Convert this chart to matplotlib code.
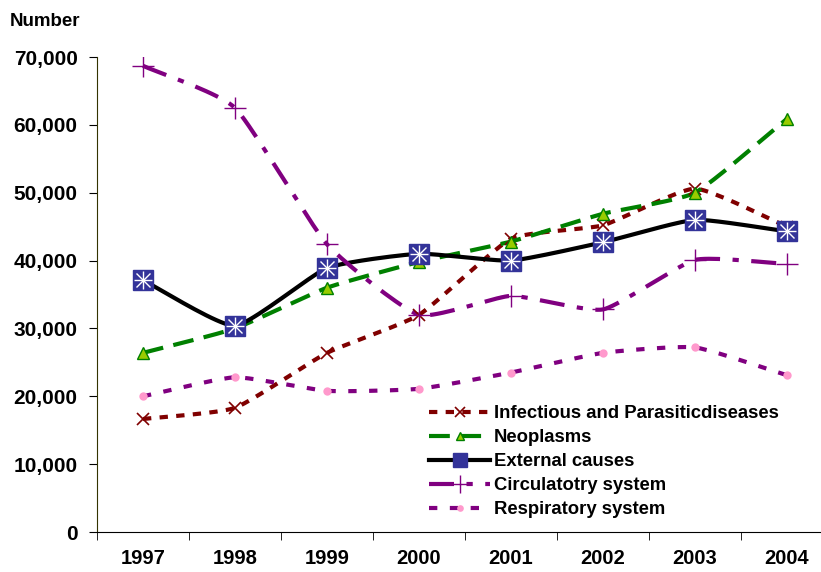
import matplotlib
matplotlib.use('Agg')

import matplotlib.pyplot as plt
import numpy as np
from matplotlib.ticker import FuncFormatter, FixedLocator

years = ['1997', '1998', '1999', '2000', '2001', '2002', '2003', '2004']
infectious = [16650, 18300, 26400, 32000, 43200, 45200, 50600, 45000]
neoplasms = [26400, 30000, 36000, 39800, 42800, 46900, 50000, 60900]
external = [37100, 30400, 38900, 41000, 40000, 42700, 46000, 44300]
circulatory = [68700, 62500, 42400, 32000, 34800, 32800, 40100, 39500]
respiratory = [20000, 22800, 20800, 21100, 23500, 26400, 27200, 23100]


def smooth(x, y, n=20, s=0.5):
    # cardinal spline through the points (gentle, like Excel's smoothed lines)
    pts = [np.asarray(x, float), np.asarray(y, float)]
    out = [[], []]
    t = np.linspace(0, 1, n, endpoint=False)
    h00 = 2 * t ** 3 - 3 * t ** 2 + 1
    h10 = t ** 3 - 2 * t ** 2 + t
    h01 = -2 * t ** 3 + 3 * t ** 2
    h11 = t ** 3 - t ** 2
    for k, p in enumerate(pts):
        m = np.zeros_like(p)
        m[1:-1] = s * (p[2:] - p[:-2]) / 2
        m[0] = s * (p[1] - p[0])
        m[-1] = s * (p[-1] - p[-2])
        for i in range(len(p) - 1):
            out[k].extend(h00 * p[i] + h10 * m[i] + h01 * p[i + 1] + h11 * m[i + 1])
        out[k].append(p[-1])
    return out


plt.rcParams['font.family'] = ['Liberation Sans', 'DejaVu Sans']
plt.rcParams['font.weight'] = 'bold'

fig = plt.figure(figsize=(8.21, 5.72), dpi=100)
ax = fig.add_axes([97 / 821, 1 - 532 / 572, 736 / 821, 475 / 572])

x = np.arange(len(years))

styles = [
    (infectious, 'Infectious and Parasiticdiseases', '#800000', (0, (2, 2)),
     dict(marker='x', ms=9, mec='#800000', mfc='none', mew=1.2)),
    (neoplasms, 'Neoplasms', '#008000', (0, (5, 2.5)),
     dict(marker='^', ms=8, mec='#008000', mfc='#99CC00', mew=1)),
    (external, 'External causes', 'black', '-',
     dict(marker='s', ms=14, mec='#333399', mfc='#333399', mew=1)),
    (circulatory, 'Circulatotry system', '#800080', (0, (6, 3, 1.5, 3)),
     dict(marker='+', ms=16, mec='#800080', mew=1)),
    (respiratory, 'Respiratory system', '#800080', (0, (2, 3)),
     dict(marker='o', ms=6, mec='#FF99CC', mfc='#FF99CC', mew=0)),
]

handles = []
for vals, label, color, ls, mk in styles:
    sx, sy = smooth(x, vals)
    ax.plot(sx, sy, color=color, lw=3, ls=ls, zorder=2)
    ax.plot(x, vals, ls='none', zorder=3, **mk)
    if label == 'External causes':
        ax.plot(x, vals, ls='none', marker='x', ms=10, mec='white', mew=1, zorder=4)
        ax.plot(x, vals, ls='none', marker='+', ms=13, mec='white', mew=1, zorder=4)
        mk = dict(mk, ms=10)
    else:
        mk = dict(mk, ms=mk['ms'] * 0.8)
    h, = ax.plot([], [], color=color, lw=3, ls=ls, label=label, **mk)
    handles.append(h)

ax.set_xlim(-0.5, 7.5)
ax.set_ylim(0, 70000)
ax.set_yticks(np.arange(0, 70001, 10000))
ax.yaxis.set_major_formatter(FuncFormatter(lambda v, p: '{:,.0f}'.format(v)))
ax.set_xticks(x)
ax.set_xticklabels(years)
ax.xaxis.set_minor_locator(FixedLocator(np.arange(-0.5, 7.6, 1)))
ax.tick_params(axis='x', which='major', length=0, pad=12, labelsize=14.5)
ax.tick_params(axis='x', which='minor', length=6, direction='out')
ax.tick_params(axis='y', length=6, direction='out', labelsize=15, pad=8)
for lab in ax.get_xticklabels() + ax.get_yticklabels():
    lab.set_fontweight('bold')
ax.spines['top'].set_visible(False)
ax.spines['right'].set_visible(False)
ax.spines['left'].set_color('#333300')
ax.spines['bottom'].set_color('black')

fig.text(10 / 821, 1 - 22 / 572, 'Number', fontsize=13.5, fontweight='bold', va='center')

ax.legend(handles=handles, loc='upper left', bbox_to_anchor=(420 / 821, 1 - 396 / 572),
          bbox_transform=fig.transFigure, frameon=False,
          handlelength=3.3, handletextpad=0.2, labelspacing=0.38, borderpad=0,
          prop={'weight': 'bold', 'size': 13.3})

fig.savefig('out.png', dpi=100)
